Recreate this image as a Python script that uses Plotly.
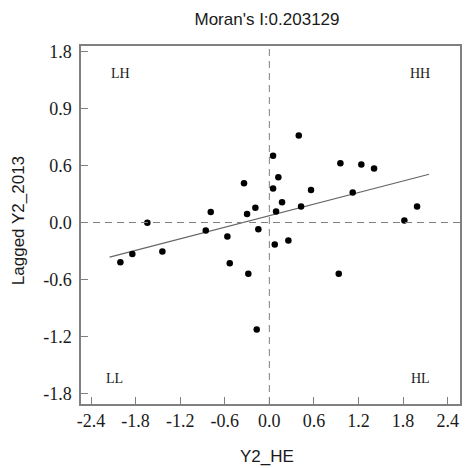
import plotly.graph_objects as go

# Data
x_vals = [-2.005, -1.844, -1.642, -1.44, -0.856, -0.789, -0.565, -0.533, -0.341, -0.300,
          -0.283, -0.188, -0.170, -0.148, 0.05, 0.05, 0.073, 0.09, 0.121, 0.171,
          0.256, 0.396, 0.427, 0.561, 0.934, 0.956, 1.122, 1.238, 1.409, 1.817, 1.988]
y_vals = [-0.419, -0.331, -0.003, -0.307, -0.085, 0.110, -0.148, -0.430, 0.413, 0.089,
          -0.540, 0.156, -1.128, -0.070, 0.703, 0.357, -0.233, 0.116, 0.476, 0.212,
          -0.190, 0.917, 0.169, 0.343, -0.540, 0.624, 0.317, 0.610, 0.568, 0.021, 0.169]

moran_i = 0.203129
intercept = 0.072
line_x = [-2.15, 2.15]
line_y = [moran_i * v + intercept for v in line_x]

x_ticks = [-2.4, -1.8, -1.2, -0.6, 0.0, 0.6, 1.2, 1.8, 2.4]
x_tick_text = ["-2.4", "-1.8", "-1.2", "-0.6", "0.0", "0.6", "1.2", "1.8", "2.4"]
y_ticks = [-1.8, -1.2, -0.6, 0.0, 0.6, 1.2, 1.8]
y_tick_text = ["-1.8", "-1.2", "-0.6", "0.0", "0.6", "0.9", "1.8"]

quad_labels = ["LH", "HH", "LL", "HL"]
quad_x = [-2.0, 2.03, -2.08, 2.03]
quad_y = [1.57, 1.57, -1.64, -1.64]

x_range = [-2.535, 2.566]
y_range = [-1.913, 1.86]

AX = "#808080"
TXT = "#1a1a1a"
SERIF = "Liberation Serif, Times New Roman, serif"
SANS = "Liberation Sans, Arial, sans-serif"

fig = go.Figure()

fig.add_trace(go.Scatter(
    x=line_x, y=line_y, mode="lines",
    line=dict(color="#666666", width=1.2), showlegend=False, hoverinfo="skip"))

fig.add_trace(go.Scatter(
    x=x_vals, y=y_vals, mode="markers",
    marker=dict(color="black", size=6.5, line=dict(width=0)), showlegend=False))

fig.add_shape(type="line", xref="x", yref="paper", x0=0, x1=0, y0=0, y1=1,
              line=dict(color=AX, width=1, dash="7px,5px"))
fig.add_shape(type="line", xref="paper", yref="y", x0=0, x1=1, y0=0, y1=0,
              line=dict(color=AX, width=1, dash="7px,5px"))

for t, qx, qy in zip(quad_labels, quad_x, quad_y):
    fig.add_annotation(x=qx, y=qy, text=t, showarrow=False,
                       font=dict(family=SERIF, size=14, color=TXT))

fig.add_annotation(xref="paper", yref="paper", x=-0.166, y=0.511,
                   xanchor="center", yanchor="middle",
                   text="Lagged Y2_2013", textangle=-90, showarrow=False,
                   font=dict(family=SANS, size=17, color=TXT))
fig.add_annotation(xref="paper", yref="paper", x=0.49, y=-0.148,
                   xanchor="center", yanchor="middle",
                   text="Y2_HE", showarrow=False,
                   font=dict(family=SANS, size=17, color=TXT))

# page body has an 8px default margin; compensate so the plot lands where the reference has it
fig.update_layout(
    width=462, height=460,
    margin=dict(l=73, r=10, t=38, b=64, autoexpand=False),
    paper_bgcolor="white", plot_bgcolor="white",
    title=dict(text="Moran's I:0.203129", x=0.5606, xanchor="center", y=0.976, yanchor="middle",
               font=dict(family=SANS, size=17, color=TXT)),
    xaxis=dict(range=x_range, tickvals=x_ticks, ticktext=x_tick_text, automargin=False,
               ticks="inside", ticklen=7, tickcolor=AX, showgrid=False, zeroline=False,
               showline=True, linecolor=AX, linewidth=1.5, mirror=True,
               tickfont=dict(family=SERIF, size=18, color=TXT)),
    yaxis=dict(range=y_range, tickvals=y_ticks, ticktext=y_tick_text, automargin=False,
               ticks="inside", ticklen=7, tickcolor=AX, showgrid=False, zeroline=False,
               showline=True, linecolor=AX, linewidth=1.5, mirror=True,
               ticklabelstandoff=4,
               tickfont=dict(family=SERIF, size=18, color=TXT)),
)

fig.write_html("out.html")
